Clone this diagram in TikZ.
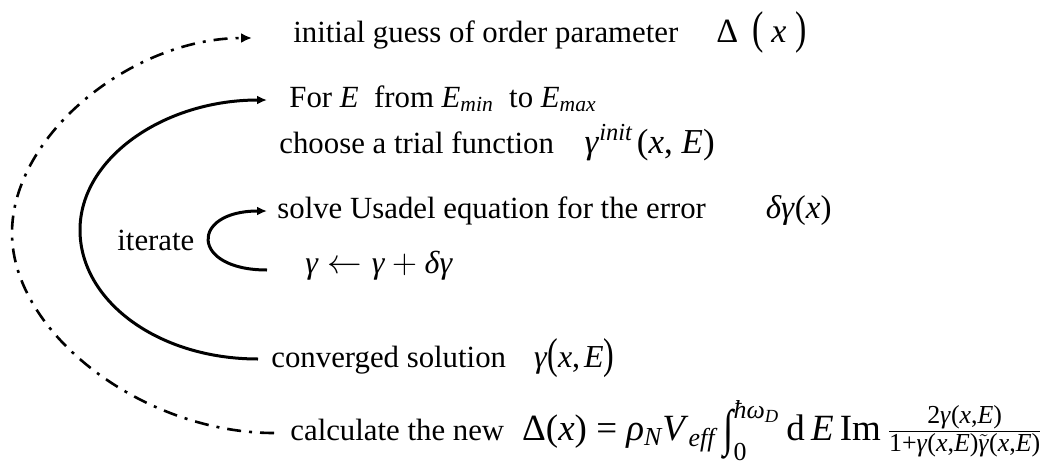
\documentclass[tikz,border=0pt]{standalone}
\usepackage{amsmath}
\usepackage{fontspec}
\setmainfont{Liberation Serif}[ItalicFont={Liberation Serif Italic}]
\usetikzlibrary{arrows.meta}

\newcommand{\bigsz}{\fontsize{17.5}{21}\selectfont}
\newcommand{\tv}[1]{\text{\itshape #1}}
\newcommand{\tr}[1]{\text{#1}}
\newcommand{\tallpar}[2][1.3]{\raisebox{-0.1ex}{\scalebox{1}[#1]{#2}}}

\begin{document}
\begin{tikzpicture}[
  x=0.5pt, y=-0.5pt,
  stage/.style={anchor=base west, inner sep=0pt, font=\fontsize{15.4}{18}\selectfont},
  arrow/.style={line width=1.5pt, -{Latex[length=5pt,width=4.5pt]}},
  outer/.style={line width=1.3pt, dash pattern=on 7pt off 4pt on 1.5pt off 4pt, -{Latex[length=5.5pt,width=5pt]}}
]
\useasboundingbox (0,0) rectangle (1048,466);
\node[stage] (init) at (293,42) {initial guess of order parameter\hspace{19pt}{\fontsize{17}{20}\selectfont Δ\hspace{7pt}\tallpar[1.35]{(}\hspace{4pt}\textit{x}\hspace{4.5pt}\tallpar[1.35]{)}}};
\node[stage] (fore) at (289,107) {For \textit{E}\ \ from \textit{E}${}_{\tv{min}}$\ \ to \textit{E}${}_{\tv{max}}$};
\node[stage] (choose) at (279,153) {choose a trial function\quad{\bigsz\textit{γ}${}^{\tv{init}}$\hspace{2pt}(\textit{x}, \textit{E})}};
\node[stage] (solve) at (277,218) {solve Usadel equation for the error\hspace{30pt}{\fontsize{16.5}{20}\selectfont\textit{δγ}(\textit{x})}};
\node[stage] (update) at (305,273) {\fontsize{16}{19}\selectfont$\tv{γ}\leftarrow\tv{γ}+\tv{δγ}$};
\node[stage] (iter) at (117,250) {iterate};
\node[stage] (conv) at (271,367) {converged solution\hspace{14pt}{\fontsize{16}{19}\selectfont\textit{γ}\tallpar[1.35]{(}\textit{x},\hspace{2pt}\textit{E}\tallpar[1.35]{)}}};
\node[stage] (calc) at (290,440) {calculate the new\hspace{9pt}{\fontsize{18.5}{22}\selectfont Δ(\textit{x}) = \textit{ρ}${}_{\tv{N}}$\textit{V}${}_{\tv{eff}}$\hspace{4pt}$\mathop{\text{\raisebox{-0.35ex}{\scalebox{1}[1.38]{∫}}}}\nolimits_{\tr{0}}^{\tv{ħω}_{\tv{D}}}$\,d\,\textit{E}\,Im$\,\frac{\text{2\textit{γ}(\textit{x},\textit{E})}}{\text{1+\textit{γ}(\textit{x},\textit{E})}\tilde{\text{\textit{γ}}}\text{(\textit{x},\textit{E})}}$}};
% outer loop over the order parameter
\draw[outer] ([xshift=-8pt,yshift=3.5pt]calc.base west) .. controls +(-131,0) and +(0,100) .. (12,233)
  .. controls +(0,-98) and +(-120,0) .. ([xshift=-20.5pt,yshift=2pt]init.base west);
% loop over energies
\draw[arrow] ([xshift=-6.5pt,yshift=4pt]conv.base west) .. controls +(-100,0) and +(0,71) .. (80,230)
  .. controls +(0,-72) and +(-103,0) .. ([xshift=-11pt,yshift=3.5pt]fore.base west);
% inner iteration
\draw[arrow] ([xshift=-19pt,yshift=1.5pt]update.base west) .. controls +(-77,0) and +(-77,0) .. ([xshift=-5pt,yshift=3.5pt]solve.base west);
\end{tikzpicture}
\end{document}
